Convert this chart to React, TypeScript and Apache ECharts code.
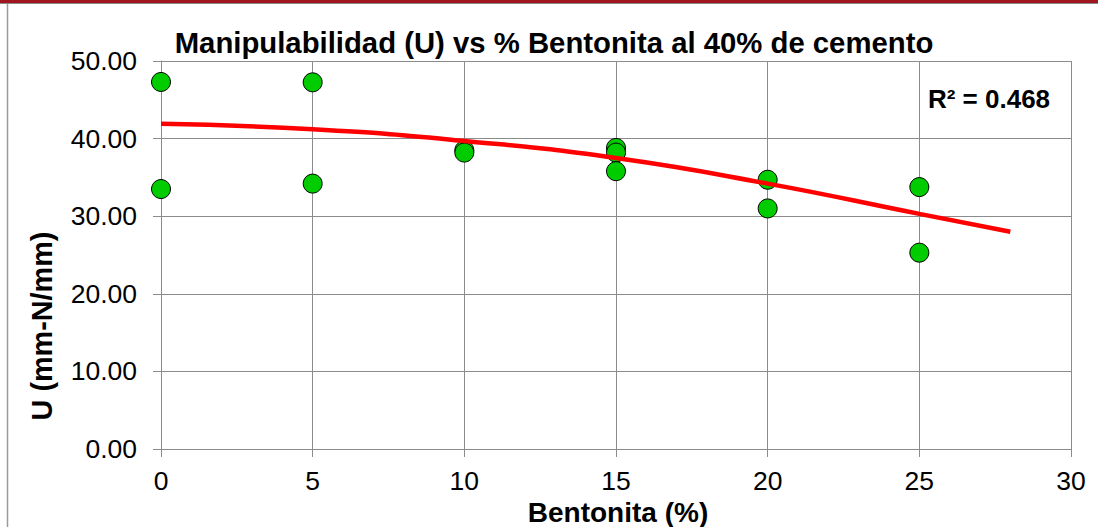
import React, { useEffect, useRef } from "react";
import * as echarts from "echarts";

// Measured points: bentonite content (%) vs workability U (mm-N/mm)
const bentonita = [0, 0, 5, 5, 10, 10, 15, 15, 15, 20, 20, 25, 25];
const manipulabilidad = [47.3, 33.5, 47.25, 34.2, 38.5, 38.2, 38.8, 38.2, 35.8, 34.7, 31.0, 33.75, 25.3];

// Polynomial trendline (order 2), values along the curve
const trendX = [0, 5, 10, 15, 20, 25, 28];
const trendY = [41.9, 41.2, 39.7, 37.5, 34.2, 30.3, 28.0];

const chartTitle = "Manipulabilidad (U) vs % Bentonita al 40% de cemento";
const xTitle = "Bentonita (%)";
const yTitle = "U (mm-N/mm)";
const r2Label = "R² = 0.468";

const FONT = "'Liberation Sans', Arial, sans-serif";
const GRID = "#8c8c8c";

export default function App() {
  const ref = useRef<HTMLDivElement>(null);

  useEffect(() => {
    if (!ref.current) return;
    const chart = echarts.init(ref.current, undefined, { renderer: "svg" });

    const points = bentonita.map((x, i) => [x, manipulabilidad[i]]);
    const trend = trendX.map((x, i) => [x, trendY[i]]);

    chart.setOption({
      animation: false,
      backgroundColor: "#ffffff",
      grid: { left: 161, right: 27, top: 61, bottom: 78, containLabel: false },
      xAxis: {
        type: "value",
        min: 0,
        max: 30,
        interval: 5,
        axisLine: { show: true, lineStyle: { color: GRID, width: 1 } },
        axisTick: { show: true, length: 8, lineStyle: { color: GRID } },
        axisLabel: { color: "#000", fontFamily: FONT, fontSize: 26.5, margin: 18 },
        splitLine: { show: true, lineStyle: { color: GRID, width: 1 } },
      },
      yAxis: {
        type: "value",
        min: 0,
        max: 50,
        interval: 10,
        axisLine: { show: true, lineStyle: { color: GRID, width: 1 } },
        axisTick: { show: true, length: 8, lineStyle: { color: GRID } },
        axisLabel: {
          color: "#000",
          fontFamily: FONT,
          fontSize: 26.5,
          margin: 24,
          formatter: (v: number) => v.toFixed(2),
        },
        splitLine: { show: true, lineStyle: { color: GRID, width: 1 } },
      },
      series: [
        {
          type: "scatter",
          data: points,
          symbol: "circle",
          symbolSize: 19,
          itemStyle: { color: "#00cc00", borderColor: "#000", borderWidth: 1, opacity: 1 },
          z: 2,
        },
        {
          type: "line",
          data: trend,
          smooth: 0.5,
          showSymbol: false,
          lineStyle: { color: "#ff0000", width: 4.5 },
          z: 3,
        },
      ],
      graphic: [
        { type: "rect", shape: { x: 0, y: 0, width: 1098, height: 3 }, style: { fill: "#a0161f" } },
        { type: "line", shape: { x1: 0, y1: 3.5, x2: 1098, y2: 3.5 }, style: { stroke: "#8a8a8a", lineWidth: 1.2 } },
        { type: "line", shape: { x1: 7.5, y1: 4, x2: 7.5, y2: 527 }, style: { stroke: "#9a9a9a", lineWidth: 1.5 } },
        {
          type: "text",
          x: 554,
          y: 42,
          style: {
            text: chartTitle,
            fontFamily: FONT,
            fontWeight: "bold",
            fontSize: 29.3,
            fill: "#000",
            align: "center",
            verticalAlign: "middle",
          },
        },
        {
          type: "text",
          x: 989,
          y: 99,
          z: 10,
          style: {
            text: r2Label,
            fontFamily: FONT,
            fontWeight: "bold",
            fontSize: 26,
            fill: "#000",
            align: "center",
            verticalAlign: "middle",
          },
        },
        {
          type: "text",
          x: 618,
          y: 512,
          style: {
            text: xTitle,
            fontFamily: FONT,
            fontWeight: "bold",
            fontSize: 28,
            fill: "#000",
            align: "center",
            verticalAlign: "middle",
          },
        },
        {
          type: "text",
          x: 41.5,
          y: 326,
          rotation: Math.PI / 2,
          style: {
            text: yTitle,
            fontFamily: FONT,
            fontWeight: "bold",
            fontSize: 28.8,
            fill: "#000",
            align: "center",
            verticalAlign: "middle",
          },
        },
      ],
    });

    return () => chart.dispose();
  }, []);

  return (
    <div
      ref={ref}
      style={{ position: "fixed", left: 0, top: 0, width: 1098, height: 527, background: "#fff" }}
    />
  );
}
